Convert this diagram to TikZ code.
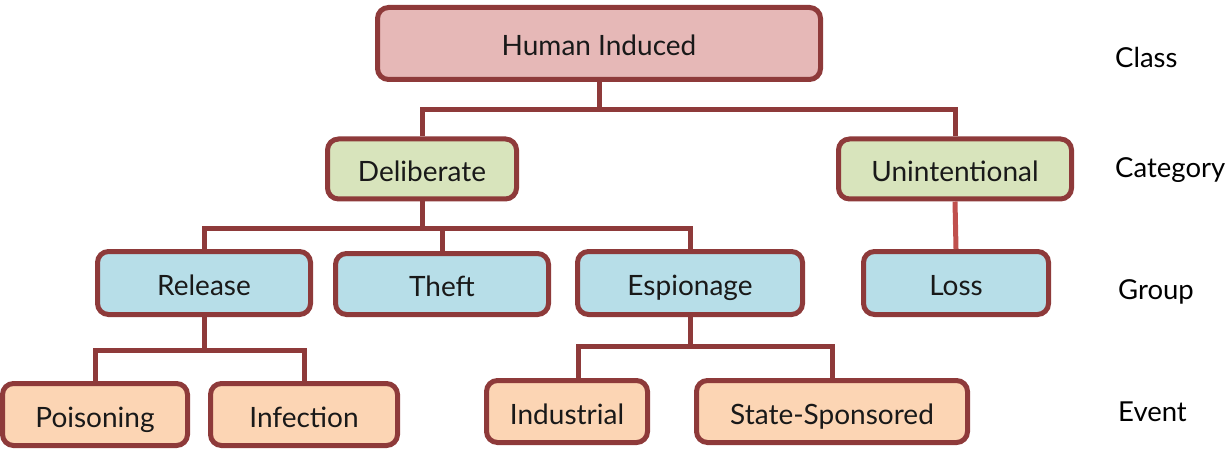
\documentclass[tikz,border=0pt]{standalone}
\usepackage{fontspec}
\setmainfont{Lato}
\definecolor{bord}{RGB}{142,58,58}
\definecolor{lossline}{RGB}{192,80,77}
\definecolor{fclass}{RGB}{230,184,183}
\definecolor{fcat}{RGB}{216,228,188}
\definecolor{fgroup}{RGB}{183,222,232}
\definecolor{fevent}{RGB}{252,213,180}
\tikzset{
  box/.style={draw=bord, line width=5pt, rounded corners=11pt, inner sep=0pt,
    font=\fontsize{28}{32}\selectfont, text=black!90, text height=25pt, text depth=0pt},
  classbox/.style={box, fill=fclass},
  catbox/.style={box, fill=fcat},
  groupbox/.style={box, fill=fgroup},
  eventbox/.style={box, fill=fevent},
  conn/.style={draw=bord, line width=5pt},
  lvl/.style={anchor=west, font=\fontsize{27.5}{32}\selectfont, text=black, inner sep=0pt}
}
\begin{document}
\begin{tikzpicture}[x=1pt,y=-1pt]
\useasboundingbox (0,0) rectangle (1228,449);
% boxes
\node[classbox, minimum width=443pt, minimum height=72pt] (hi) at (599,43.5) {Human Induced};
\node[catbox, minimum width=189pt, minimum height=60pt] (del) at (422,169) {Deliberate};
\node[catbox, minimum width=233pt, minimum height=60pt] (un) at (955,169) {Unintentional};
\node[groupbox, minimum width=213pt, minimum height=63pt] (rel) at (204,283) {Release};
\node[groupbox, minimum width=213pt, minimum height=61pt] (th) at (442,284) {Theft};
\node[groupbox, minimum width=225pt, minimum height=63pt] (esp) at (690,283) {Espionage};
\node[groupbox, minimum width=185pt, minimum height=63pt] (loss) at (956,283) {Loss};
\node[eventbox, minimum width=185pt, minimum height=62pt] (poi) at (95,414.5) {Poisoning};
\node[eventbox, minimum width=187pt, minimum height=62pt] (inf) at (304,414.5) {Infection};
\node[eventbox, minimum width=161pt, minimum height=62pt] (ind) at (567,411.5) {Industrial};
\node[eventbox, minimum width=271pt, minimum height=62pt] (ss) at (832,411.5) {State-Sponsored};
% level labels
\node[lvl] (lc) at (1115,57) {Class};
\node[lvl] (lk) at (1115,170) {Category};
\node[lvl] (lg) at (1118,292) {Group};
\node[lvl] (le) at (1118,412) {Event};
% junctions
\coordinate (j1) at (599,110);
\coordinate (j2) at (422,228);
\coordinate (j3) at (204,350);
\coordinate (j4l) at (578,346);
\coordinate (j4) at (690,346);
% connectors
\draw[conn] (hi.south) -- (j1);
\draw[conn] (del.north) |- (j1) -| (un.north);
\draw[conn] (del.south) -- (j2);
\draw[conn] (rel.north) |- (j2) -| (esp.north);
\draw[conn] (j2 -| th.north) -- (th.north);
\draw[draw=lossline, line width=5pt] (un.south) -- (loss.north);
\draw[conn] (rel.south) -- (j3);
\draw[conn] (poi.north) |- (j3) -| (inf.north);
\draw[conn] (esp.south) -- (j4);
\draw[conn] (j4l |- ind.north) -- (j4l) -| (ss.north);
\end{tikzpicture}
\end{document}
